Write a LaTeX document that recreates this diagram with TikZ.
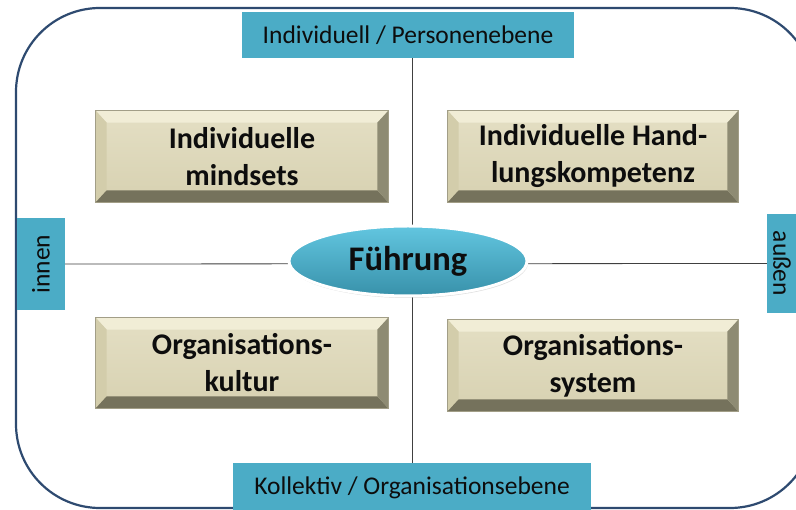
\documentclass[tikz,border=0pt]{standalone}
\usepackage{fontspec}
\setmainfont{Carlito}
\usetikzlibrary{calc,shapes.geometric,shadows}
\definecolor{labteal}{HTML}{4BACC6}
\definecolor{frameblue}{HTML}{2E4A70}
\definecolor{linegray}{HTML}{404040}
\definecolor{facetop}{HTML}{E4DFC4}
\definecolor{facebot}{HTML}{D7D1B1}
\definecolor{bevtopc}{HTML}{F1EDD6}
\definecolor{bevleftc}{HTML}{D3CDAB}
\definecolor{bevbotc}{HTML}{75725C}
\definecolor{bevrightc}{HTML}{8E8B73}
\definecolor{boxline}{HTML}{A29E87}
\definecolor{elltop}{HTML}{62C6E0}
\definecolor{ellbot}{HTML}{3891AA}
\definecolor{txt}{HTML}{0D0D0D}
\tikzset{
  labfont/.style={text=txt, font=\fontsize{25.5}{30}\selectfont},
  lab/.style={fill=labteal, inner sep=0pt, labfont},
  boxtext/.style={inner sep=0pt, align=center, text=txt, font=\bfseries\fontsize{30}{37}\selectfont},
  bevelbox/.style={draw=boxline, line width=0.6pt, top color=facetop, bottom color=facebot, inner sep=0pt},
  hub/.style={ellipse, draw=white, line width=3pt, top color=elltop, bottom color=ellbot,
     inner sep=0pt, text=txt, font=\bfseries\fontsize{34.5}{40}\selectfont,
     drop shadow={opacity=0.25, shadow xshift=1pt, shadow yshift=-2pt}},
  axis/.style={draw=linegray, line width=0.8pt}
}
\newcommand{\bevelize}[1]{%
  \fill[bevtopc] (#1.north west) -- (#1.north east) -- ($(#1.north east)+(-11,12)$) -- ($(#1.north west)+(11,12)$) -- cycle;
  \fill[bevleftc] (#1.north west) -- ($(#1.north west)+(11,12)$) -- ($(#1.south west)+(11,-12)$) -- (#1.south west) -- cycle;
  \fill[bevbotc] (#1.south west) -- ($(#1.south west)+(11,-12)$) -- ($(#1.south east)+(-11,-12)$) -- (#1.south east) -- cycle;
  \fill[bevrightc] (#1.south east) -- ($(#1.south east)+(-11,-12)$) -- ($(#1.north east)+(-11,12)$) -- (#1.north east) -- cycle;
  \draw[boxline, line width=0.6pt] (#1.north west) rectangle (#1.south east);
}
\begin{document}
\begin{tikzpicture}[x=1pt,y=-1pt]
\useasboundingbox (0,0) rectangle (796,510);
\clip (0,0) rectangle (796,510);
\fill[white] (0,0) rectangle (796,510);
% outer frame
\draw[frameblue, line width=2.2pt, rounded corners=84pt] (16,8) rectangle (814,508);
% axis labels
\node[lab, minimum width=332pt, minimum height=46pt] (top) at (408,35) {Individuell / Personenebene};
\node[lab, minimum width=358pt, minimum height=50pt] (bot) at (412,488) {Kollektiv / Organisationsebene};
\node[lab, minimum width=48pt, minimum height=92pt] (innen) at (41,264) {};
\node[rotate=90, labfont] (innentxt) at (innen.center) {innen};
\node[lab, minimum width=48pt, minimum height=99pt] (aussen) at (791,263.5) {};
\node[rotate=-90, labfont] (aussentxt) at (782,263.5) {außen};
% axes
\draw[axis] (top.south -| bot.north) -- (bot.north);
\draw[axis] (innen.east) -- (aussen.west);
% quadrant boxes
\node[bevelbox, minimum width=292pt, minimum height=91pt] (im) at (242,156.5) {};
\node[bevelbox, minimum width=290pt, minimum height=91pt] (ih) at (593,156.5) {};
\node[bevelbox, minimum width=292pt, minimum height=90pt] (ok) at (242,363) {};
\node[bevelbox, minimum width=290pt, minimum height=91pt] (os) at (593,365.5) {};
\bevelize{im}
\bevelize{ih}
\bevelize{ok}
\bevelize{os}
\node[boxtext] (imt) at (im.center) {Individuelle\\mindsets};
\node[boxtext] (iht) at (ih.center) {Individuelle Hand-\\lungskompetenz};
\node[boxtext] (okt) at (ok.center) {Organisations-\\kultur};
\node[boxtext] (ost) at (os.center) {Organisations-\\system};
% hub
\node[hub, minimum width=238pt, minimum height=70pt] (fuehrung) at (408,261) {Führung};
\end{tikzpicture}
\end{document}
